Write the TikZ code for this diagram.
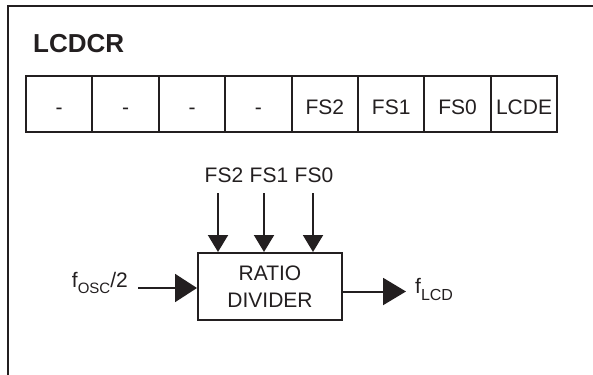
\documentclass[tikz,border=0pt]{standalone}
\usepackage{fontspec}
\setmainfont{Liberation Sans}
\usetikzlibrary{arrows.meta}
\definecolor{ink}{HTML}{231F20}
\tikzset{
  lw/.style={line width=2pt, draw=ink},
  cellbox/.style={lw, minimum width=66.4pt, minimum height=56pt, inner sep=0pt,
    text height=22pt, text depth=0pt, text=ink, font=\fontsize{21}{25}\selectfont},
  lbl/.style={inner sep=0pt, text=ink, font=\fontsize{21}{25}\selectfont},
  downarrow/.style={lw, -{Triangle[length=17pt,width=20pt]}},
  bigarrow/.style={lw, -{Triangle[length=22pt,width=28pt]}}
}
\begin{document}
\begin{tikzpicture}[x=1pt,y=-1pt]
\useasboundingbox (0,0) rectangle (593,374);
% frame (top and left edges only)
\coordinate (ftr) at (593,5.7);
\coordinate (ftl) at (8,5.7);
\coordinate (fbl) at (8,374);
\draw[lw, line cap=rect] (ftr) -- (ftl) -- (fbl);
% title
\node[inner sep=0pt, anchor=base west, text=ink, font=\fontsize{26}{30}\selectfont\bfseries] (title) at (33,53) {LCDCR};
% register cells
\foreach \t [count=\i] in {-,-,-,-,FS2,FS1,FS0,LCDE}{
  \node[cellbox] (c\i) at ({26+66.4*(\i-0.5)},104) {\t};
}
% ratio divider
\node[lw, minimum width=144pt, minimum height=67pt, inner sep=0pt, align=center,
      text=ink, font=\fontsize{21}{27}\selectfont] (div) at (270,286.5) {RATIO\\DIVIDER};
% FS labels
\node[lbl, anchor=base] (fs2) at (224,182) {FS2};
\node[lbl, anchor=base] (fs1) at (269,182) {FS1};
\node[lbl, anchor=base] (fs0) at (314,182) {FS0};
\coordinate (a2) at (218,193);
\coordinate (a1) at (264,193);
\coordinate (a0) at (313,193);
\draw[downarrow] (a2) -- (a2 |- div.north);
\draw[downarrow] (a1) -- (a1 |- div.north);
\draw[downarrow] (a0) -- (a0 |- div.north);
% input
\node[lbl, anchor=base east] (fin) at (128,287) {f\raisebox{-6pt}{\fontsize{15}{15}\selectfont OSC}/2};
\coordinate (inS) at (138,288);
\draw[bigarrow] (inS) -- (inS -| div.west);
% output
\coordinate (outE) at (406,291.5);
\draw[lw, -{Triangle[length=23pt,width=27pt]}] (outE -| div.east) -- (outE);
\node[lbl, anchor=base west] (fout) at (415,293) {f\raisebox{-7pt}{\fontsize{16}{16}\selectfont LCD}};
\end{tikzpicture}
\end{document}
